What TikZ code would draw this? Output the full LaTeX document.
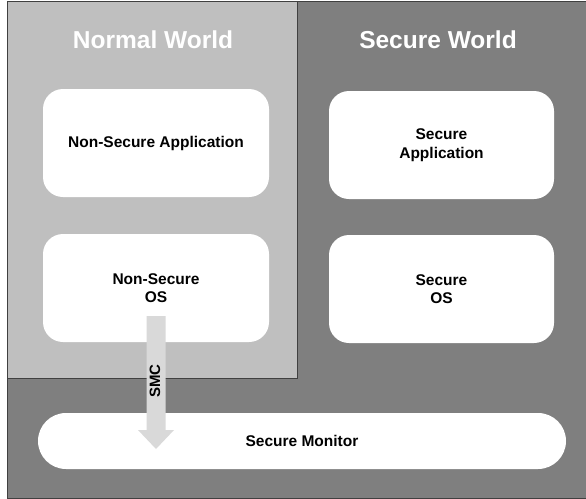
\documentclass[tikz,border=0pt]{standalone}
\usepackage{fontspec}
\setmainfont{Liberation Sans}
\definecolor{darkbg}{HTML}{7F7F7F}
\definecolor{lightbg}{HTML}{BFBFBF}
\definecolor{arrowc}{HTML}{D9D9D9}
\definecolor{edge}{HTML}{404040}
\begin{document}
\begin{tikzpicture}[x=1pt,y=-1pt,
  worldtitle/.style={text=white,font=\fontsize{24.5}{29}\selectfont\bfseries},
  box/.style={fill=white,draw=none,rounded corners=20pt,minimum width=226pt,minimum height=108pt,align=center,font=\fontsize{15.5}{18.5}\selectfont\bfseries,inner sep=0pt},
  smcarrow/.style={fill=arrowc,draw=none}]
\useasboundingbox (0,0) rectangle (586,498);
\fill[white] (0,0) rectangle (586,498);
\draw[fill=darkbg,draw=edge,line width=0.8pt] (7,1) rectangle (586,498);
\draw[fill=lightbg,draw=edge,line width=0.8pt] (7,1) rectangle (297,378);
\node[worldtitle] (nw) at (153,40) {Normal World};
\node[worldtitle] (sw) at (438,40) {Secure World};
\node[box] (nsapp) at (156,143) {Non-Secure Application};
\node[box] (nsos) at (156,288) {Non-Secure\\OS};
\node[box,minimum width=225pt] (sapp) at (441.5,145) {Secure\\Application};
\node[box,minimum width=225pt] (sos) at (441.5,289) {Secure\\OS};
\node[box,minimum width=528pt,minimum height=56pt,rounded corners=28pt] (mon) at (302,441) {Secure Monitor};
\coordinate (atop) at (156,316);
\coordinate (atip) at (156,449);
\fill[smcarrow] ([xshift=-9.5pt]atop) -- ([xshift=9.5pt]atop) -- ([xshift=9.5pt]atop |- 0,430) -- (174,430) -- (atip) -- (138,430) -- ([xshift=-9.5pt]atop |- 0,430) -- cycle;
\node[rotate=90,font=\fontsize{15}{18}\selectfont\bfseries] (smc) at (155,381) {SMC};
\end{tikzpicture}
\end{document}
